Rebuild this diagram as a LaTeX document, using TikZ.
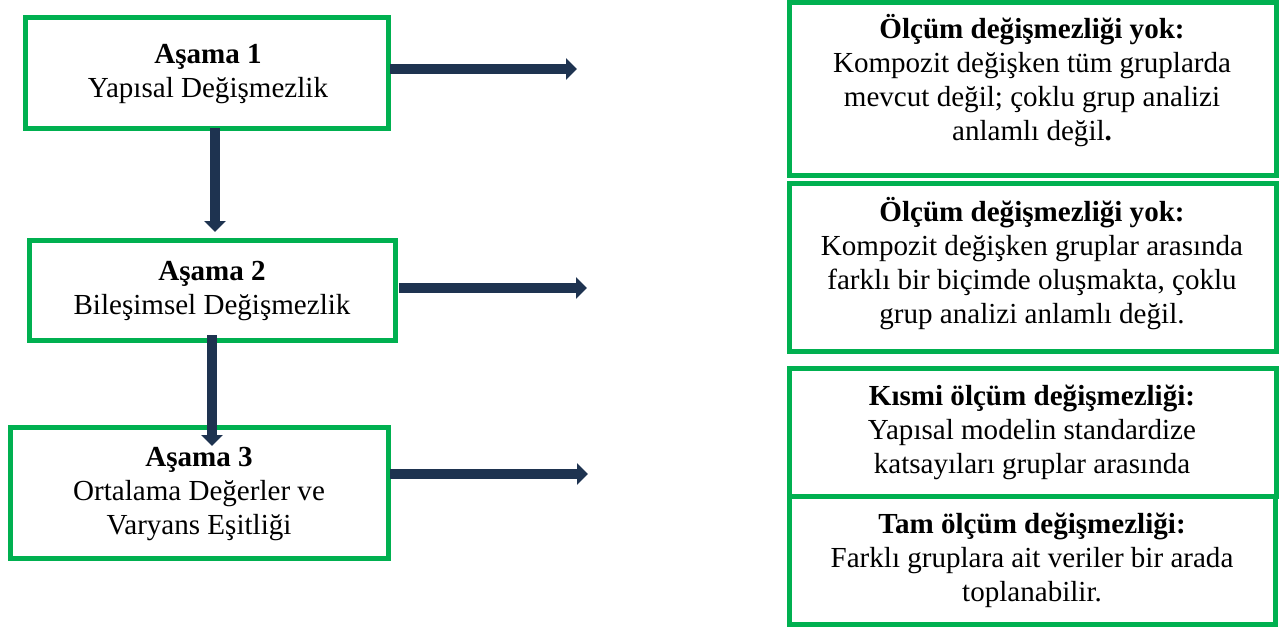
\documentclass[tikz,border=0pt]{standalone}
\usepackage{fontspec}
\setmainfont{Liberation Serif}
\usetikzlibrary{arrows.meta,calc}
\definecolor{boxgreen}{HTML}{00B050}
\definecolor{flownavy}{HTML}{1E3350}
\begin{document}
\begin{tikzpicture}[x=0.75pt,y=-0.75pt,
  frame/.style={draw=boxgreen,line width=3.75pt,inner sep=0pt,outer sep=0pt,rectangle},
  label/.style={align=center,inner sep=0pt,font=\fontsize{21.8}{25.5}\selectfont},
  flow/.style={draw=flownavy,line width=7.5pt,-{Triangle[length=8.25pt,width=15.75pt]}}]
\useasboundingbox (0,0) rectangle (1285,628);

% stages (left column)
\node[frame,minimum width=272.25pt,minimum height=83.25pt] (b1) at (206.5,72.5) {};
\node[label] (t1) at (208,74.5) {\textbf{Aşama 1}\\Yapısal Değişmezlik};

\node[frame,minimum width=274.5pt,minimum height=75pt] (b2) at (212,290) {};
\node[label] (t2) at (212,291.5) {\textbf{Aşama 2}\\Bileşimsel Değişmezlik};

\node[frame,minimum width=283.5pt,minimum height=98.25pt] (b3) at (199,492.5) {};
\node[label] (t3) at (199,494) {\textbf{Aşama 3}\\Ortalama Değerler ve\\Varyans Eşitliği};

% outcomes (right column)
\node[frame,minimum width=365.25pt,minimum height=129.75pt] (r1) at (1032.5,88.5) {};
\node[label] (u1) at (1032,81) {\textbf{Ölçüm değişmezliği yok:}\\Kompozit değişken tüm gruplarda\\mevcut değil; çoklu grup analizi\\anlamlı değil\textbf{.}};

\node[frame,minimum width=365.25pt,minimum height=126pt] (r2) at (1032.5,267) {};
\node[label] (u2) at (1032,264) {\textbf{Ölçüm değişmezliği yok:}\\Kompozit değişken gruplar arasında\\farklı bir biçimde oluşmakta, çoklu\\grup analizi anlamlı değil.};

\node[frame,minimum width=365.25pt,minimum height=96pt] (r3) at (1032.5,432) {};
\node[label] (u3) at (1032,432) {\textbf{Kısmi ölçüm değişmezliği:}\\Yapısal modelin standardize\\katsayıları gruplar arasında};

\node[frame,minimum width=364.5pt,minimum height=96pt] (r4) at (1032,560) {};
\node[label] (u4) at (1032,560) {\textbf{Tam ölçüm değişmezliği:}\\Farklı gruplara ait veriler bir arada\\toplanabilir.};

% free ends of the horizontal arrows
\coordinate (e1) at (577,69);
\coordinate (e2) at (587,288);
\coordinate (e3) at (588,474);

% flow arrows
\draw[flow] ($(b1.south)+(8.5,0)$) -- ($(b2.north)+(3,-8)$);
\draw[flow] ($(b2.south)+(0,-5)$) -- ($(b3.north)+(13,19)$);
\draw[flow] ($(b1.east)+(2,-3.5)$) -- (e1);
\draw[flow] ($(b2.east)+(4,-2)$) -- (e2);
\draw[flow] ($(b3.east)+(2,-18.5)$) -- (e3);
\end{tikzpicture}
\end{document}
